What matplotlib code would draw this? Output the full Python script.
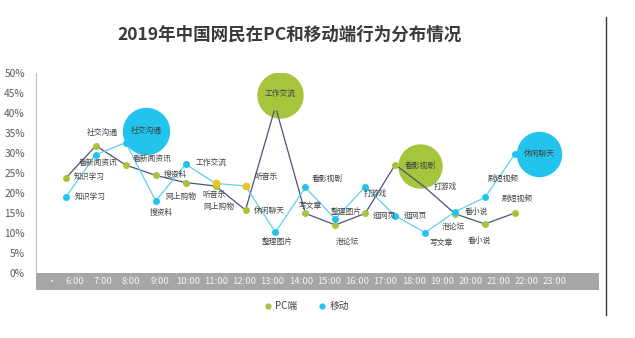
import matplotlib
matplotlib.use('Agg')
from matplotlib import pyplot as plt
from matplotlib.lines import Line2D
from matplotlib.patches import Rectangle
from matplotlib.transforms import offset_copy

plt.rcParams['font.family'] = ['Noto Sans CJK SC', 'DejaVu Sans']

# data (share of users, %)
hours = list(range(6, 22))
pc_values = [23.8, 31.8, 27.0, 24.4, 22.6, 21.75, 15.75, 41.6, 14.9, 12.0,
             14.9, 27.1, 21.4, 14.8, 12.25, 15.0]
pc_labels = ['知识学习', '社交沟通', '看新闻资讯', '搜资料', '网上购物', '网上购物',
             '休闲聊天', '工作交流', '写文章', '泡论坛', '逛网页', '看影视剧',
             '打游戏', '泡论坛', '看小说', '刷短视频']
mobile_values = [19.0, 29.6, 32.6, 18.0, 27.2, 22.4, 21.75, 10.2, 21.4, 13.5,
                 21.6, 14.3, 10.1, 15.3, 18.9, 29.7]
mobile_labels = ['知识学习', '看新闻资讯', '社交沟通', '搜资料', '工作交流', '听音乐',
                 '听音乐', '整理图片', '看影视剧', '整理图片', '打游戏', '逛网页',
                 '写文章', '看小说', '刷短视频', '休闲聊天']
tick_labels = ['•'] + [f'{h}:00' for h in range(6, 24)]

# which points get a bubble / special marker
pc_bubbles = [7, 11]
mobile_bubbles = [2, 15]
pc_hidden = [12]
mobile_yellow = [5, 6]

# label offsets in pixels (dx, dy) from each point
pc_offsets = [(23, 0), (6, 13), (26, 6), (20, 0), (-5, -14), (3, -21), (24, -1),
              (5, 12), (5, 7), (12, -17), (19, -2), (25, -1), (20, 0), (-2, -13),
              (-6, -17), (2, 14)]
mobile_offsets = [(24, -1), (2, -8), (20, 12), (6, -12), (25, 0), (-2, -12),
                  (21, 9), (2, -10), (22, 8), (11, 7), (10, -7), (20, 0),
                  (16, -10), (21, 0), (18, 18), (24, 0)]
bubble_radius = {('pc', 7): 22.5, ('pc', 11): 21.5, ('mobile', 2): 23, ('mobile', 15): 22}

PC_DOT = '#a6c43c'
PC_LINE = '#4a5574'
MOB_DOT = '#22c3ec'
MOB_LINE = '#5ccff0'
YELLOW = '#f0c21c'
TEXT = '#404040'

fig = plt.figure(figsize=(6.35, 3.38), dpi=100)
ax = fig.add_axes([36 / 635, 1 - 273 / 338, 563 / 635, 200 / 338])

# lines + markers
ax.plot(hours, pc_values, color=PC_LINE, lw=0.9, marker='o', ms=4,
        mfc=PC_DOT, mec=PC_DOT, zorder=3,
        markevery=[i for i in range(len(hours)) if i not in pc_hidden])
ax.plot(hours, mobile_values, color=MOB_LINE, lw=0.9, marker='o', ms=4,
        mfc=MOB_DOT, mec=MOB_DOT, zorder=3)
ax.plot([hours[i] for i in mobile_yellow], [mobile_values[i] for i in mobile_yellow],
        'o', ms=4.5, color=YELLOW, zorder=4)


def add_labels(values, labels, offsets, bubbles, key, color):
    for i, (h, v, lab) in enumerate(zip(hours, values, labels)):
        dx, dy = offsets[i]
        if i in bubbles:
            r = bubble_radius[(key, i)]
            trans = offset_copy(ax.transData, fig=fig, x=dx, y=dy, units='dots')
            ax.plot([h], [v], 'o', ms=2 * r * 72 / 100, color=color,
                    transform=trans, zorder=1)
        ax.annotate(lab, (h, v), xytext=(dx, dy), textcoords='offset pixels',
                    ha='center', va='center', fontsize=5.6, color=TEXT, zorder=5)


add_labels(pc_values, pc_labels, pc_offsets, pc_bubbles, 'pc', PC_DOT)
add_labels(mobile_values, mobile_labels, mobile_offsets, mobile_bubbles, 'mobile', MOB_DOT)

ax.set_xlim(5.0, 23.81)
ax.set_ylim(0, 50)

# x labels sit in a grey band under the plot
ax.set_xticks([5.49] + [6.30 + 0.9435 * k for k in range(18)])
ax.set_xticklabels(tick_labels)
ax.tick_params(axis='x', length=0, pad=3.2, labelsize=6.8, labelcolor='#f4f4f4')
ax.add_patch(Rectangle((0, -17 / 200), 1, 17 / 200, transform=ax.transAxes,
                       clip_on=False, facecolor='#a6a6a6', edgecolor='none', zorder=0))

ax.set_yticks(range(0, 51, 5))
ax.set_yticklabels([f'{v}%' for v in range(0, 51, 5)])
ax.tick_params(axis='y', length=0, pad=8, labelsize=7.3, labelcolor='#595959')

for side in ['top', 'right', 'bottom']:
    ax.spines[side].set_visible(False)
ax.spines['left'].set_color('#bfbfbf')
ax.spines['left'].set_linewidth(0.8)
ax.patch.set_alpha(0)

fig.text(290 / 635, 1 - 35 / 338, '2019年中国网民在PC和移动端行为分布情况',
         ha='center', va='center', fontsize=12.6, fontweight='bold', color='#3a3a3a')

handles = [Line2D([], [], marker='o', ls='', color=PC_DOT, ms=3.5),
           Line2D([], [], marker='o', ls='', color=MOB_DOT, ms=3.5)]
fig.legend(handles, ['PC端', '移动'], loc='center', bbox_to_anchor=(306 / 635, 1 - 306 / 338),
           ncol=2, frameon=False, fontsize=7, handletextpad=0.3, columnspacing=2.0,
           handlelength=1, labelcolor=TEXT)

# frame edge on the right of the original screenshot
fig.add_artist(Line2D([605.7 / 635] * 2, [1 - 17 / 338, 1 - 315 / 338],
                      color='#3a3a3a', lw=1))

fig.savefig('out.png', dpi=100)
plt.close(fig)
